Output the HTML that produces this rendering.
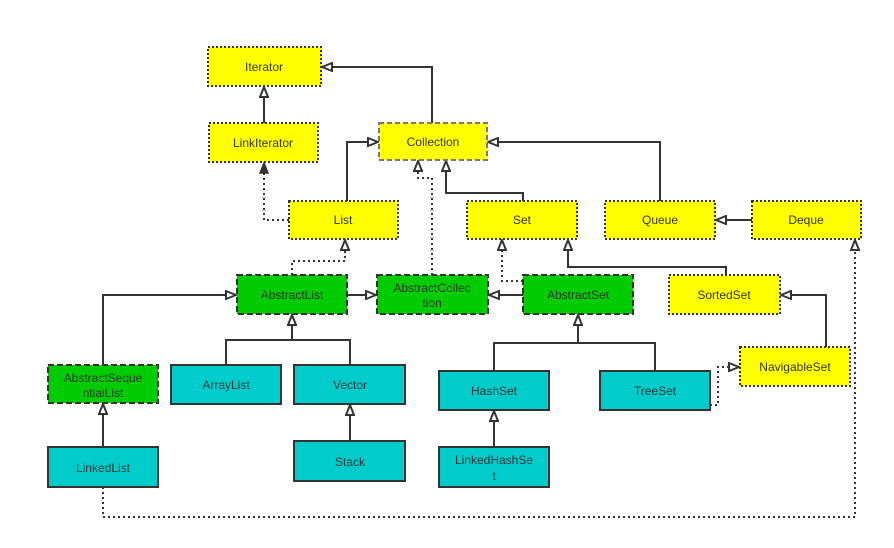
<!DOCTYPE html>
<html><head><meta charset="utf-8"><style>
html,body{margin:0;padding:0;background:#fff;}
svg{display:block;font-family:"Liberation Sans","Noto Sans CJK SC",sans-serif;}
text{font-size:12px;fill:#333;text-anchor:middle;}
</style></head><body>
<svg width="894" height="548" viewBox="0 0 894 548" xmlns="http://www.w3.org/2000/svg">
<defs>
<marker id="h" markerWidth="12" markerHeight="10" refX="11" refY="5" orient="auto" markerUnits="userSpaceOnUse">
<path d="M1,1 L11,5 L1,9 Z" fill="#fff" stroke="#333" stroke-width="2"/></marker>
<marker id="f" markerWidth="12" markerHeight="10" refX="11" refY="5" orient="auto" markerUnits="userSpaceOnUse">
<path d="M1,1 L11,5 L1,9 Z" fill="#333" stroke="#333" stroke-width="1.5"/></marker>
</defs>
<g fill="none" stroke="#333" stroke-width="2">
<path d="M432,123 V67 H322" marker-end="url(#h)"/>
<path d="M264,123 V87" marker-end="url(#h)"/>
<path d="M289,220 H264 V163" stroke-dasharray="2,3" marker-end="url(#f)"/>
<path d="M347,201 V142 H378" marker-end="url(#h)"/>
<path d="M432,275 V178 H418 V161" stroke-dasharray="2,3" marker-end="url(#h)"/>
<path d="M523,201 V193 H446 V161" marker-end="url(#h)"/>
<path d="M660,201 V142 H488" marker-end="url(#h)"/>
<path d="M752,220 H716" marker-end="url(#h)"/>
<path d="M292,275 V261 H345 V240" stroke-dasharray="2,3" marker-end="url(#h)"/>
<path d="M347,295 H376" marker-end="url(#h)"/>
<path d="M523,295 H489" marker-end="url(#h)"/>
<path d="M523,281 H502 V240" stroke-dasharray="2,3" marker-end="url(#h)"/>
<path d="M726,275 V267 H568 V240" marker-end="url(#h)"/>
<path d="M826,347 V295 H781" marker-end="url(#h)"/>
<path d="M710,405 H718 V367 H739" stroke-dasharray="2,3" marker-end="url(#h)"/>
<path d="M103,487 V517 H855 V240" stroke-dasharray="2,3" marker-end="url(#h)"/>
<path d="M103,365 V295 H236" marker-end="url(#h)"/>
<path d="M226,365 V340 H350 V365 M292,340 V315" marker-end="url(#h)"/>
<path d="M350,441 V405" marker-end="url(#h)"/>
<path d="M494,371 V343 H655 V371 M578,343 V315" marker-end="url(#h)"/>
<path d="M494,447 V411" marker-end="url(#h)"/>
<path d="M103,447 V404" marker-end="url(#h)"/>
</g>
<g stroke="#333" stroke-width="2">
<g fill="#ffff00" stroke-dasharray="2,2">
<rect x="208" y="47" width="113" height="39"/>
<rect x="209" y="123" width="109" height="39"/>
<rect x="289" y="201" width="109" height="38"/>
<rect x="467" y="201" width="110" height="38"/>
<rect x="605" y="201" width="110" height="38"/>
<rect x="752" y="201" width="109" height="38"/>
<rect x="669" y="275" width="111" height="39"/>
<rect x="740" y="347" width="110" height="39"/>
</g>
<rect x="379" y="123" width="108" height="37" fill="#ffff00" stroke="#777" stroke-dasharray="5,3"/>
<g fill="#00cc00" stroke-dasharray="6,3">
<rect x="237" y="275" width="110" height="39"/>
<rect x="377" y="275" width="111" height="39"/>
<rect x="523" y="275" width="110" height="39"/>
<rect x="48" y="365" width="110" height="38"/>
</g>
<g fill="#00cccc">
<rect x="171" y="365" width="110" height="39"/>
<rect x="294" y="365" width="111" height="39"/>
<rect x="294" y="441" width="111" height="40"/>
<rect x="48" y="447" width="110" height="40"/>
<rect x="439" y="371" width="110" height="39"/>
<rect x="600" y="371" width="110" height="39"/>
<rect x="439" y="447" width="110" height="40"/>
</g>
</g>
<text x="264" y="71">Iterator</text>
<text x="263" y="147">LinkIterator</text>
<text x="433" y="146">Collection</text>
<text x="343" y="224">List</text>
<text x="522" y="224">Set</text>
<text x="660" y="224">Queue</text>
<text x="806" y="224">Deque</text>
<text x="292" y="299">AbstractList</text>
<text x="432" y="292">AbstractCollec</text>
<text x="432" y="307">tion</text>
<text x="578" y="299">AbstractSet</text>
<text x="724" y="299">SortedSet</text>
<text x="795" y="371">NavigableSet</text>
<text x="103" y="382">AbstractSeque</text>
<text x="103" y="397">ntialList</text>
<text x="226" y="389">ArrayList</text>
<text x="350" y="389">Vector</text>
<text x="350" y="466">Stack</text>
<text x="103" y="472">LinkedList</text>
<text x="494" y="395">HashSet</text>
<text x="655" y="395">TreeSet</text>
<text x="494" y="464">LinkedHashSe</text>
<text x="494" y="480">t</text>
</svg>
</body></html>
